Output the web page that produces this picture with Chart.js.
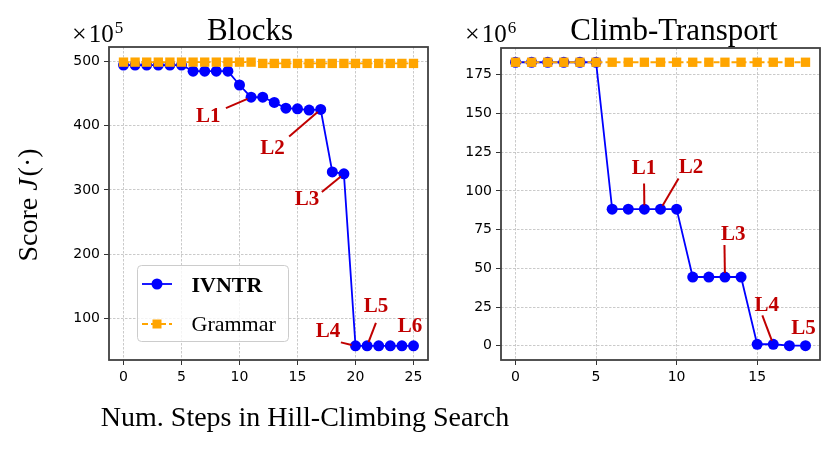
<!DOCTYPE html>
<html>
<head>
<meta charset="utf-8">
<script src="https://cdn.jsdelivr.net/npm/chart.js@4.4.0/dist/chart.umd.min.js"></script>
<style>
    body { margin: 0; background: #fff; }
    #wrap { position: relative; width: 830px; height: 450px; }
    canvas { position: absolute; top: 0; }
</style>
</head>
<body>
<div id="wrap">
    <canvas id="blocks" width="830" height="450" style="left:0"></canvas>
    <canvas id="climb" width="390" height="450" style="left:440px"></canvas>
</div>
<script>
// Blocks panel (scores in units of 1e5)
var blocksSteps = [0, 1, 2, 3, 4, 5, 6, 7, 8, 9, 10, 11, 12, 13, 14, 15, 16, 17, 18, 19, 20, 21, 22, 23, 24, 25];
var blocksIvntr = [494, 494, 494, 494, 494, 494, 484.5, 484.5, 484.5, 484.5, 463, 444, 444, 436, 427, 426, 424, 425, 328, 325, 58, 58, 58, 58, 58, 58];
var blocksGrammar = [498.5, 498.5, 498.5, 498.5, 498.5, 498.5, 498.5, 498.5, 498.5, 498.5, 498.5, 498.5,
    496.5, 496.5, 496.5, 496.5, 496.5, 496.5, 496.5, 496.5, 496.5, 496.5, 496.5, 496.5, 496.5, 496.5];
var blocksXTicks = [0, 5, 10, 15, 20, 25];
var blocksYTicks = [100, 200, 300, 400, 500];

// Climb-Transport panel (scores in units of 1e6)
var climbSteps = [0, 1, 2, 3, 4, 5, 6, 7, 8, 9, 10, 11, 12, 13, 14, 15, 16, 17, 18];
var climbIvntr = [183, 183, 183, 183, 183, 183, 88.2, 88.2, 88.2, 88.2, 88.2, 44.4, 44.4, 44.4, 44.4, 1, 1, 0.1, 0.1];
var climbGrammar = [183, 183, 183, 183, 183, 183, 183, 183, 183, 183, 183, 183, 183, 183, 183, 183, 183, 183, 183];
var climbXTicks = [0, 5, 10, 15];
var climbYTicks = [0, 25, 50, 75, 100, 125, 150, 175];

var seriesNames = ['IVNTR', 'Grammar'];

// level labels: text centre (tx,ty), leader start (lx,ly), target point (px,py), data coords
var blocksNotes = [
    { text: 'L1', tx: 7.3, ty: 416, lx: 8.83, ly: 427, px: 11, py: 444 },
    { text: 'L2', tx: 12.84, ty: 366.7, lx: 14.28, ly: 383, px: 17, py: 425 },
    { text: 'L3', tx: 15.81, ty: 287, lx: 17.1, ly: 297, px: 19, py: 325 },
    { text: 'L4', tx: 17.62, ty: 82.7, lx: 18.74, ly: 63.4, px: 20, py: 58 },
    { text: 'L5', tx: 21.76, ty: 122, lx: 21.76, ly: 93.6, px: 21, py: 58 },
    { text: 'L6', tx: 24.7, ty: 91 }
];
var climbNotes = [
    { text: 'L1', tx: 7.98, ty: 115.5, lx: 7.98, ly: 104.8, px: 8, py: 88.2 },
    { text: 'L2', tx: 10.89, ty: 116, lx: 10.12, ly: 108, px: 9, py: 88.2 },
    { text: 'L3', tx: 13.51, ty: 72.5, lx: 12.97, ly: 65, px: 13, py: 44.4 },
    { text: 'L4', tx: 15.59, ty: 26.8, lx: 15.32, ly: 19.7, px: 16, py: 1 },
    { text: 'L5', tx: 17.87, ty: 12.1 }
];

var BLUE = '#0000ff';
var ORANGE = '#ffa500';
var RED = '#c00000';
var SERIF = '"Liberation Serif", "Times New Roman", serif';

function toPoints(xs, ys) {
    return xs.map(function (x, i) { return { x: x, y: ys[i] }; });
}

function drawNotes(chart, notes) {
    var ctx = chart.ctx, sx = chart.scales.x, sy = chart.scales.y;
    ctx.save();
    ctx.fillStyle = RED;
    ctx.strokeStyle = RED;
    ctx.lineWidth = 2;
    ctx.font = 'bold 21px ' + SERIF;
    ctx.textAlign = 'center';
    ctx.textBaseline = 'alphabetic';
    notes.forEach(function (n) {
        ctx.fillText(n.text, sx.getPixelForValue(n.tx), sy.getPixelForValue(n.ty) + 7);
        if (n.lx !== undefined) {
            var x0 = sx.getPixelForValue(n.lx), y0 = sy.getPixelForValue(n.ly);
            var x1 = sx.getPixelForValue(n.px), y1 = sy.getPixelForValue(n.py);
            var d = Math.hypot(x1 - x0, y1 - y0), k = (d - 4) / d;
            ctx.beginPath();
            ctx.moveTo(x0, y0);
            ctx.lineTo(x0 + (x1 - x0) * k, y0 + (y1 - y0) * k);
            ctx.stroke();
        }
    });
    ctx.restore();
}

function drawFrame(chart) {
    var ctx = chart.ctx, a = chart.chartArea;
    ctx.save();
    ctx.strokeStyle = '#404040';
    ctx.lineWidth = 1.8;
    ctx.strokeRect(a.left, a.top, a.right - a.left, a.bottom - a.top);
    ctx.restore();
}

function drawHeader(chart, title, titleX, power, powerX) {
    var ctx = chart.ctx;
    ctx.save();
    ctx.fillStyle = '#000';
    ctx.textBaseline = 'alphabetic';
    ctx.textAlign = 'center';
    ctx.font = '31px ' + SERIF;
    ctx.fillText(title, titleX, 40);
    ctx.textAlign = 'left';
    ctx.font = '26px ' + SERIF;
    ctx.fillText('\u00d7', powerX, 42);
    var w = ctx.measureText('\u00d7').width;
    ctx.font = '25px ' + SERIF;
    ctx.fillText('10', powerX + w + 2, 42);
    var w2 = ctx.measureText('10').width;
    ctx.font = '17px ' + SERIF;
    ctx.fillText(power, powerX + w + 3 + w2, 33);
    ctx.restore();
}

function drawLegend(ctx) {
    ctx.save();
    ctx.beginPath();
    ctx.roundRect(137.5, 265.5, 151, 76, 4);
    ctx.fillStyle = 'rgba(255,255,255,0.8)';
    ctx.fill();
    ctx.strokeStyle = '#cccccc';
    ctx.lineWidth = 1;
    ctx.stroke();

    ctx.lineWidth = 1.8;
    ctx.strokeStyle = BLUE;
    ctx.beginPath(); ctx.moveTo(142, 284); ctx.lineTo(172, 284); ctx.stroke();
    ctx.fillStyle = BLUE;
    ctx.beginPath(); ctx.arc(157, 284, 5.5, 0, Math.PI * 2); ctx.fill();

    ctx.strokeStyle = ORANGE;
    ctx.setLineDash([6, 3]);
    ctx.beginPath(); ctx.moveTo(142, 324); ctx.lineTo(172, 324); ctx.stroke();
    ctx.setLineDash([]);
    ctx.fillStyle = ORANGE;
    ctx.fillRect(152.5, 319.5, 9, 9);

    ctx.fillStyle = '#000';
    ctx.textAlign = 'left';
    ctx.textBaseline = 'alphabetic';
    ctx.font = 'bold 22px ' + SERIF;
    ctx.fillText(seriesNames[0], 191.5, 292);
    ctx.font = '22px ' + SERIF;
    ctx.fillText(seriesNames[1], 191.5, 331);
    ctx.restore();
}

function drawAxisLabels(ctx) {
    ctx.save();
    ctx.fillStyle = '#000';
    ctx.textBaseline = 'alphabetic';
    ctx.textAlign = 'center';
    ctx.font = '28px ' + SERIF;
    ctx.fillText('Num. Steps in Hill-Climbing Search', 305, 426);

    // y label: "Score J(·)" with italic J
    var parts = [['Score ', '28px '], ['J', 'italic 28px '], ['(\u00b7)', '28px ']];
    var total = 0;
    parts.forEach(function (p) { ctx.font = p[1] + SERIF; total += ctx.measureText(p[0]).width; });
    ctx.translate(37, 206);
    ctx.rotate(-Math.PI / 2);
    ctx.textAlign = 'left';
    var x = -total / 2;
    parts.forEach(function (p) {
        ctx.font = p[1] + SERIF;
        ctx.fillText(p[0], x, 0);
        x += ctx.measureText(p[0]).width + (p[0] === 'J' ? 2 : 0);
    });
    ctx.restore();
}

function axisOptions(range, ticks, fit) {
    return {
        type: 'linear',
        min: range[0], max: range[1],
        afterBuildTicks: function (s) { s.ticks = ticks.map(function (v) { return { value: v }; }); },
        afterFit: fit,
        border: { display: false, dash: [2.5, 1.5] },
        grid: { color: '#c4c4c4', lineWidth: 0.9, tickLength: 5, tickColor: '#333', tickWidth: 1, tickBorderDash: [] },
        ticks: { color: '#000', padding: 4, maxRotation: 0, font: { family: 'DejaVu Sans', size: 14 } }
    };
}

function makeChart(id, steps, ivntr, grammar, xTicks, yTicks, xr, yr, pad, extra) {
    var ctx = document.getElementById(id).getContext('2d');
    return new Chart(ctx, {
        type: 'line',
        data: {
            datasets: [{
                label: seriesNames[0],
                data: toPoints(steps, ivntr),
                borderColor: BLUE,
                backgroundColor: BLUE,
                borderWidth: 1.8,
                pointRadius: 5.5,
                pointHoverRadius: 5.5,
                pointBorderWidth: 0,
                tension: 0,
                order: 1
            }, {
                label: seriesNames[1],
                data: toPoints(steps, grammar),
                borderColor: ORANGE,
                backgroundColor: ORANGE,
                borderWidth: 1.8,
                borderDash: [6, 3],
                pointStyle: 'rect',
                pointRadius: 6.6,
                pointHoverRadius: 6.6,
                pointBorderWidth: 0,
                tension: 0,
                order: 0
            }]
        },
        options: {
            responsive: false,
            animation: false,
            devicePixelRatio: 1,
            layout: { padding: pad },
            plugins: { legend: { display: false }, tooltip: { enabled: false } },
            scales: {
                x: axisOptions(xr, xTicks, function (s) { s.height = 30; }),
                y: axisOptions(yr, yTicks, function (s) { s.width = 45; })
            }
        },
        plugins: [{
            id: 'decor',
            afterDraw: function (chart) {
                drawFrame(chart);
                extra(chart);
            }
        }]
    });
}

makeChart('blocks', blocksSteps, blocksIvntr, blocksGrammar, blocksXTicks, blocksYTicks,
    [-1.25, 26.25], [36, 522], { left: 64, right: 402, top: 47, bottom: 60 },
    function (chart) {
        drawNotes(chart, blocksNotes);
        drawHeader(chart, 'Blocks', 250, '5', 72);
        drawLegend(chart.ctx);
        drawAxisLabels(chart.ctx);
    });

makeChart('climb', climbSteps, climbIvntr, climbGrammar, climbXTicks, climbYTicks,
    [-0.9, 18.9], [-9.15, 192.2], { left: 16, right: 10, top: 48, bottom: 60 },
    function (chart) {
        drawNotes(chart, climbNotes);
        drawHeader(chart, 'Climb-Transport', 234, '6', 25);
    });
</script>
</body>
</html>
